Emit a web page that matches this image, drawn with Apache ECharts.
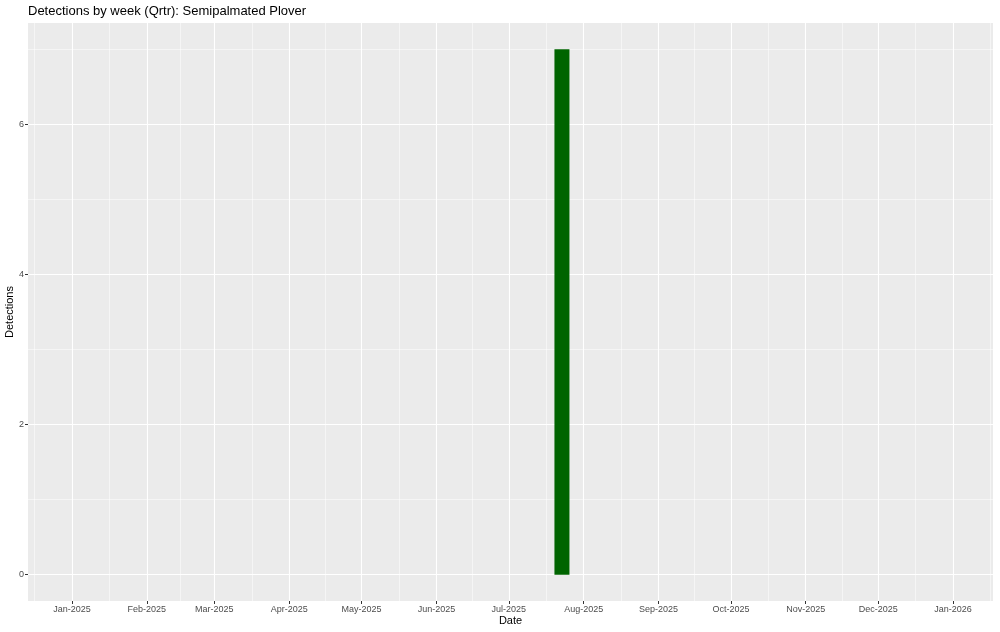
<!DOCTYPE html>
<html><head><meta charset="utf-8">
<script src="https://cdn.jsdelivr.net/npm/echarts@6/dist/echarts.min.js"></script>
<style>html,body{margin:0;padding:0;background:#fff}#c{width:1000px;height:632px}</style>
</head><body><div id="c"></div>
<script>
// ---- data ----
const barDates = ['2025-07-23'];
const barValues = [7];
const monthTicks = ['2025-01-01','2025-02-01','2025-03-01','2025-04-01','2025-05-01','2025-06-01','2025-07-01','2025-08-01','2025-09-01','2025-10-01','2025-11-01','2025-12-01','2026-01-01'];
const monthLabels = ['Jan-2025','Feb-2025','Mar-2025','Apr-2025','May-2025','Jun-2025','Jul-2025','Aug-2025','Sep-2025','Oct-2025','Nov-2025','Dec-2025','Jan-2026'];
const yTicks = [0, 2, 4, 6];
const yMinorTicks = [1, 3, 5, 7];
const xMinStr = '2024-12-13T19:00:00Z';
const xMaxStr = '2026-01-17T14:00:00Z';
const yMin = -0.35, yMax = 7.35;

const ts = s => Date.parse(s.length === 10 ? s + 'T00:00:00Z' : s);
const majorX = monthTicks.map(ts);
const minorX = [];
const extended = [ts('2024-12-01')].concat(majorX).concat([ts('2026-02-01')]);
for (let i = 0; i < extended.length - 1; i++) minorX.push((extended[i] + extended[i+1]) / 2);
const xMin = ts(xMinStr), xMax = ts(xMaxStr);
const minorIn = minorX.filter(v => v > xMin && v < xMax);
const labelMap = {};
majorX.forEach((v, i) => labelMap[v] = monthLabels[i]);

const font = 'Liberation Sans, Arial, sans-serif';
const chart = echarts.init(document.getElementById('c'));
chart.setOption({
  animation: false,
  backgroundColor: '#ffffff',
  title: { text: 'Detections by week (Qrtr): Semipalmated Plover', left: 28, top: 5, padding: 0,
    textStyle: { fontFamily: font, fontSize: 13, fontWeight: 'normal', color: '#000' } },
  grid: { left: 28, right: 7, top: 23, bottom: 31, containLabel: false, outerBoundsMode: 'none',
    show: true, backgroundColor: '#EBEBEB', borderWidth: 0 },
  xAxis: [
    { type: 'value', min: xMin, max: xMax, position: 'bottom', scale: true,
      name: 'Date', nameLocation: 'middle', nameGap: 14, nameMoveOverlap: false,
      nameTextStyle: { fontFamily: font, fontSize: 11, color: '#000' },
      axisLine: { show: false, onZero: false },
      axisTick: { show: true, length: 3, customValues: majorX, lineStyle: { color: '#333', width: 1 } },
      axisLabel: { customValues: majorX, fontFamily: font, fontSize: 9, color: '#4D4D4D', margin: 4,
        formatter: v => labelMap[v] || '' },
      splitLine: { show: true, lineStyle: { color: '#ffffff', width: 1.1 } } },
    { type: 'value', min: xMin, max: xMax, position: 'top', scale: true,
      axisLine: { show: false, onZero: false }, axisTick: { show: false, customValues: minorIn },
      axisLabel: { show: false, customValues: minorIn },
      splitLine: { show: true, lineStyle: { color: '#ffffff', width: 0.5 } } }
  ],
  yAxis: [
    { type: 'value', min: yMin, max: yMax, position: 'left',
      name: 'Detections', nameLocation: 'middle', nameGap: 13, nameRotate: 90, nameMoveOverlap: false,
      nameTextStyle: { fontFamily: font, fontSize: 11, color: '#000' },
      axisLine: { show: false, onZero: false },
      axisTick: { show: true, length: 3, customValues: yTicks, lineStyle: { color: '#333', width: 1 } },
      axisLabel: { customValues: yTicks, fontFamily: font, fontSize: 9, color: '#4D4D4D', margin: 4 },
      splitLine: { show: true, lineStyle: { color: '#ffffff', width: 1.1 } } },
    { type: 'value', min: yMin, max: yMax, position: 'right',
      axisLine: { show: false, onZero: false }, axisTick: { show: false, customValues: yMinorTicks },
      axisLabel: { show: false, customValues: yMinorTicks },
      splitLine: { show: true, lineStyle: { color: '#ffffff', width: 0.5 } } }
  ],
  series: [{
    type: 'bar', xAxisIndex: 0, yAxisIndex: 0, barWidth: 15,
    itemStyle: { color: '#006400' },
    data: barDates.map((d, i) => [ts(d), barValues[i]])
  }]
});
</script></body></html>
